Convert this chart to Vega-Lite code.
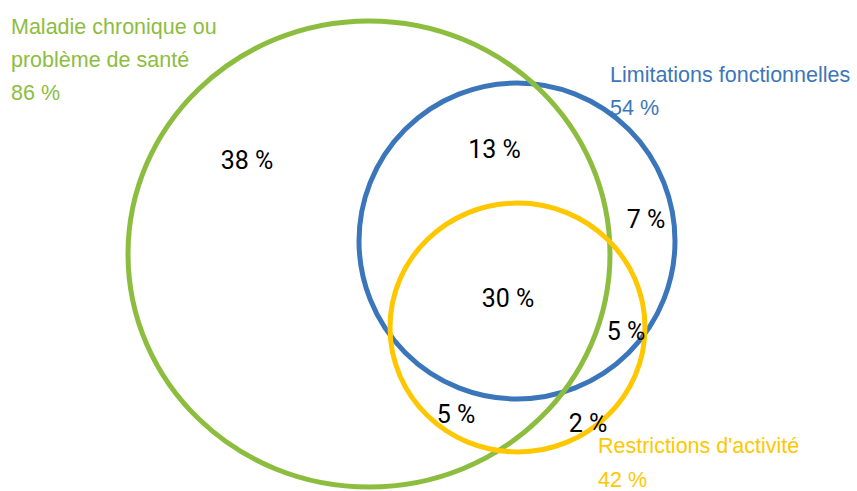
{
  "$schema": "https://vega.github.io/schema/vega-lite/v6.json",
  "width": 857,
  "height": 491,
  "padding": 0,
  "autosize": {"type": "none"},
  "background": "white",
  "config": {"view": {"stroke": null}},
  "datasets": {
    "cercles": [
      {"ensemble": "Limitations", "cx": 517, "cy": 241, "r": 158},
      {"ensemble": "Maladie", "cx": 369, "cy": 254, "r": 241},
      {"ensemble": "Restrictions", "cx": 517.5, "cy": 327.5, "r": 127.5}
    ],
    "etiquettes": [
      {"ensemble": "Maladie", "texte": "Maladie chronique ou", "x": 11, "y": 34},
      {"ensemble": "Maladie", "texte": "problème de santé", "x": 11, "y": 67},
      {"ensemble": "Maladie", "texte": "86 %", "x": 11, "y": 100},
      {"ensemble": "Limitations", "texte": "Limitations fonctionnelles", "x": 610, "y": 82},
      {"ensemble": "Limitations", "texte": "54 %", "x": 610, "y": 115},
      {"ensemble": "Restrictions", "texte": "Restrictions d'activité", "x": 598, "y": 453},
      {"ensemble": "Restrictions", "texte": "42 %", "x": 598, "y": 487}
    ],
    "parts": [
      {"texte": "38 %", "x": 247, "y": 169},
      {"texte": "13 %", "x": 494.5, "y": 158},
      {"texte": "7 %", "x": 646, "y": 228},
      {"texte": "30 %", "x": 508, "y": 307},
      {"texte": "5 %", "x": 626, "y": 340},
      {"texte": "5 %", "x": 456, "y": 423},
      {"texte": "2 %", "x": 588, "y": 432}
    ]
  },
  "layer": [
    {
      "data": {"name": "cercles"},
      "mark": {"type": "point", "filled": false, "strokeWidth": 5, "opacity": 1},
      "encoding": {
        "x": {"field": "cx", "type": "quantitative", "scale": {"domain": [0, 857]}, "axis": null},
        "y": {"field": "cy", "type": "quantitative", "scale": {"domain": [0, 491], "reverse": true}, "axis": null},
        "size": {"field": "r", "type": "quantitative", "scale": {"type": "pow", "exponent": 2, "domain": [0, 250], "range": [0, 250000]}, "legend": null},
        "shape": {"field": "ensemble", "type": "nominal", "scale": {"domain": ["Maladie", "Limitations", "Restrictions"], "range": ["M-1,0A1,0.967,0,1,1,1,0A1,0.967,0,1,1,-1,0Z", "circle", "M-1,0A1,0.976,0,1,1,1,0A1,0.976,0,1,1,-1,0Z"]}, "legend": null},
        "color": {"field": "ensemble", "type": "nominal", "scale": {"domain": ["Maladie", "Limitations", "Restrictions"], "range": ["#8DBD3F", "#3C76BA", "#FFC700"]}, "legend": null}
      }
    },
    {
      "data": {"name": "etiquettes"},
      "mark": {"type": "text", "align": "left", "baseline": "alphabetic", "font": "Liberation Sans", "fontSize": 21.5},
      "encoding": {
        "x": {"field": "x", "type": "quantitative", "scale": {"domain": [0, 857]}, "axis": null},
        "y": {"field": "y", "type": "quantitative", "scale": {"domain": [0, 491], "reverse": true}, "axis": null},
        "text": {"field": "texte"},
        "color": {"field": "ensemble", "type": "nominal", "scale": {"domain": ["Maladie", "Limitations", "Restrictions"], "range": ["#8DBD3F", "#3C76BA", "#FFC700"]}, "legend": null}
      }
    },
    {
      "data": {"name": "parts"},
      "mark": {"type": "text", "align": "center", "baseline": "alphabetic", "font": "Roboto", "fontSize": 25, "color": "black"},
      "encoding": {
        "x": {"field": "x", "type": "quantitative", "scale": {"domain": [0, 857]}, "axis": null},
        "y": {"field": "y", "type": "quantitative", "scale": {"domain": [0, 491], "reverse": true}, "axis": null},
        "text": {"field": "texte"}
      }
    }
  ]
}
